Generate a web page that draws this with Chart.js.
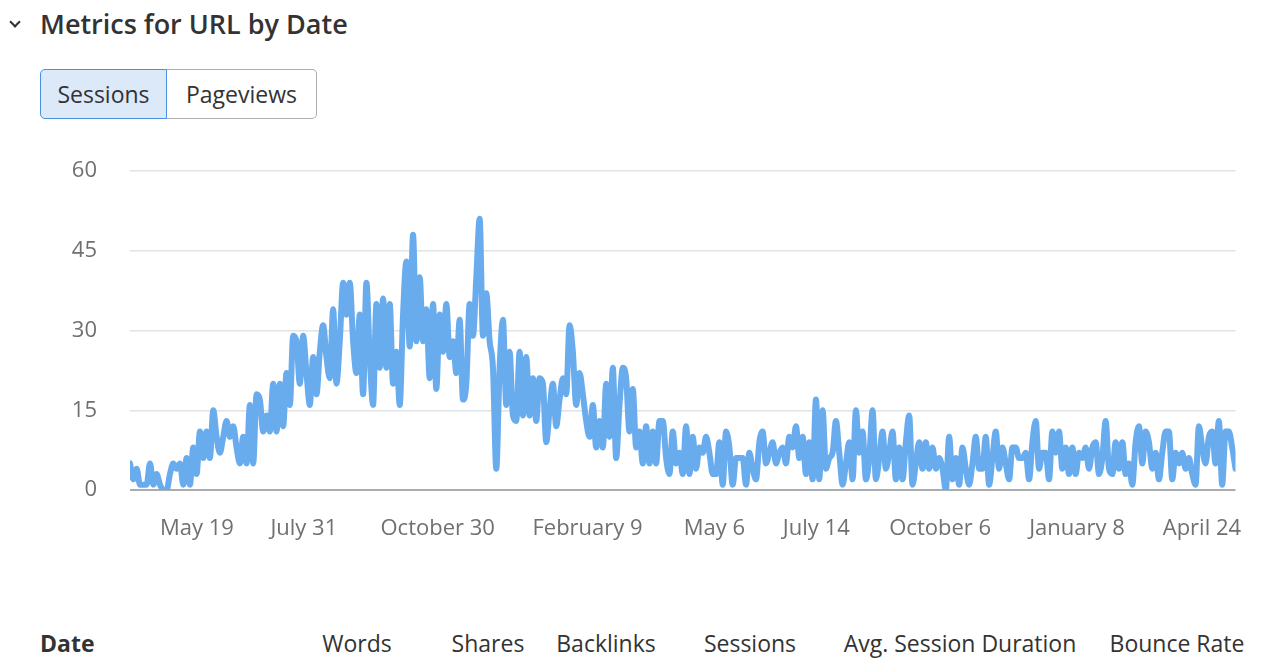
<!DOCTYPE html>
<html>
<head>
<meta charset="utf-8">
<script src="https://cdn.jsdelivr.net/npm/chart.js@4.4.1/dist/chart.umd.min.js"></script>
<style>
  html, body { margin: 0; padding: 0; background: #fff; }
  body { width: 1268px; height: 664px; position: relative; overflow: hidden; font-family: "Open Sans", sans-serif; color: #333; }
  .chev { position: absolute; left: 11px; top: 18px; width: 6px; height: 6px; border-right: 2px solid #333; border-bottom: 2px solid #333; transform: rotate(45deg); }
  .title { position: absolute; left: 40px; top: 6px; font-size: 27px; font-weight: 600; line-height: 36px; color: #333; }
  .btns { position: absolute; left: 40px; top: 69px; height: 50px; display: flex; }
  .btn { box-sizing: border-box; height: 50px; font-size: 23px; display: flex; align-items: center; justify-content: center; color: #333; }
  .b1 { width: 127px; background: #dce9f9; border: 1px solid #4a90e2; border-radius: 5px 0 0 5px; }
  .b2 { width: 150px; background: #fff; border: 1px solid #aaadb1; border-left: none; border-radius: 0 5px 5px 0; }
  #wrap { position: absolute; left: 0; top: 0; width: 1268px; height: 560px; }
  .col { position: absolute; top: 627px; font-size: 23px; line-height: 32px; color: #333; transform: translateX(-50%); white-space: nowrap; }
  .date { position: absolute; left: 40px; top: 627px; font-size: 23px; line-height: 32px; font-weight: 700; color: #333; }
</style>
</head>
<body>
<div class="chev"></div>
<div class="title">Metrics for URL by Date</div>
<div class="btns"><div class="btn b1">Sessions</div><div class="btn b2">Pageviews</div></div>
<div id="wrap"><canvas id="c"></canvas></div>
<div class="date">Date</div>
<div class="col" style="left:357px">Words</div>
<div class="col" style="left:488px">Shares</div>
<div class="col" style="left:606px">Backlinks</div>
<div class="col" style="left:750px">Sessions</div>
<div class="col" style="left:960px">Avg. Session Duration</div>
<div class="col" style="left:1177px">Bounce Rate</div>
<script>
// Sessions per sample, in order
const sessionsYear1 = [5,2,4,1,1,1,5,1,3,1,0,0,3,5,4,5,1,6,1,8,3,11,6,11,6,15,10,7,10,13,10,12,8,5,10,5,16,5,18,17,11,14,11,20,11,20,12,22,16,29,28,20,29,22,16,25,18,26,31,25,21,34,20,28,39,33,39,28,22,33,18,39,25,16,35,23,36,23,35,20,26,16,33,43,27,48,28,40,28,34,21,35,19,33,26,35,25,28,22,32,17,20,35,29,40,51,29,37,28,23,4,23,32,16,26,14,13,26];
const sessionsYear1b = [14,25,14,21,13,21,20,9,15,20,12,17,21,18,31,26,16,22,18,13,10,16,8,13,8,20,10,23,6,16,23,21,11,19,8,11,5,12,5,11,5,13,13,6,3,11,5,7,3,12,3,10,4,8,7,10,7,3,3,9,1,11,8,1,6];
const sessionsYear2 = [6,6,1,7,4,2,9,11,5,7,9,5,7,8,5,10,8,12,6,10,3,9,2,17,2,15,4,6,7,13,7,1,5,9,2,15,7,11,2,6,15,2,6,11,4,7,11,2,8,2,9,14,1,5,9,4,9,4,8,4,6,4,0,10,2,6,1,8,4,1,5,10,4,4,10];
const sessionsYear3 = [1,6,11,4,8,5,2,8,8,6,6,7,2,9,13,4,7,7,2,11,7,11,4,8,3,8,3,7,6,8,4,8,9,3,6,13,4,3,9,4,9,3,5,1,9,12,5,11,9,4,7,2,7,11,11,2,7,5,7,4,6,3,1,12,8,5,10,11,5,13,1,11,11,8,4];
const sessions = [].concat(sessionsYear1, sessionsYear1b, sessionsYear2, sessionsYear3);

// x-axis tick labels and the sample index where each sits
const tickLabels = ["May 19","July 31","October 30","February 9","May 6","July 14","October 6","January 8","April 24"];
const tickIndex = [20.1, 52.2, 92.4, 137.4, 175.5, 206.1, 243.3, 284.4, 321.9];
const yTicks = [0, 15, 30, 45, 60];

const points = sessions.map((v, i) => ({ x: i, y: v }));
const tickFont = { family: '"Open Sans", sans-serif', size: 22 };

new Chart(document.getElementById('c'), {
  type: 'line',
  data: { datasets: [{
    data: points,
    borderColor: '#69acee',
    borderWidth: 6,
    borderJoinStyle: 'round',
    borderCapStyle: 'round',
    pointRadius: 0,
    tension: 0.35,
    cubicInterpolationMode: 'monotone',
    fill: false
  }]},
  options: {
    responsive: true,
    maintainAspectRatio: false,
    animation: false,
    layout: { padding: { left: 0, right: 31, top: 171, bottom: 20 } },
    plugins: { legend: { display: false }, tooltip: { enabled: false } },
    scales: {
      x: {
        type: 'linear',
        min: 0,
        max: sessions.length - 1,
        grid: { display: false, drawTicks: false },
        border: { display: false },
        afterBuildTicks: (s) => { s.ticks = tickIndex.map(v => ({ value: v })); },
        afterFit: (s) => { s.height = 50; },
        ticks: {
          autoSkip: false,
          maxRotation: 0,
          padding: 26,
          color: '#707070',
          font: tickFont,
          callback: (v, i) => tickLabels[i]
        }
      },
      y: {
        min: 0,
        max: 60,
        afterBuildTicks: (s) => { s.ticks = yTicks.map(v => ({ value: v })); },
        afterFit: (s) => { s.width = 130; },
        grid: {
          drawTicks: false,
          color: (ctx) => ctx.tick && ctx.tick.value === 0 ? '#a9acb0' : '#dfe2e6',
          lineWidth: (ctx) => ctx.tick && ctx.tick.value === 0 ? 2 : 1.5
        },
        border: { display: false },
        ticks: { padding: 33, color: '#707070', font: tickFont }
      }
    }
  }
});
</script>
</body>
</html>
